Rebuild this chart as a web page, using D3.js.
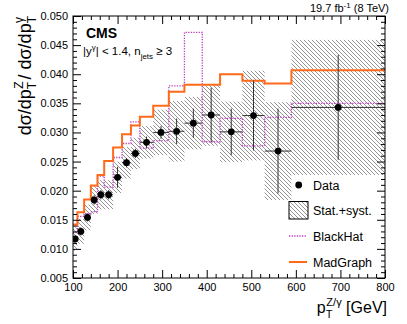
<!DOCTYPE html>
<html>
<head>
<meta charset="utf-8">
<script src="https://cdn.jsdelivr.net/npm/d3@7"></script>
<style>
  body { margin: 0; background: #fff; }
  text { font-family: "Liberation Sans", Arial, sans-serif; }
</style>
</head>
<body>
<div id="chart"></div>
<script>
// bin edges in pT (GeV)
var binEdges = [100, 110, 125, 140, 155, 170, 190, 210, 230, 250, 280, 315, 350, 390, 430, 480, 530, 590, 800];

// measured ratio and errors
var dataVals = [0.0117, 0.0130, 0.0154, 0.0184, 0.0193, 0.0193, 0.0223, 0.0248, 0.0264, 0.0283, 0.0300, 0.0302, 0.0316, 0.0330, 0.0301, 0.0329, 0.0268, 0.0343];
var statErr  = [0.0006, 0.0007, 0.0007, 0.0008, 0.0008, 0.0008, 0.0018, 0.0008, 0.0008, 0.0010, 0.0011, 0.0022, 0.0025, 0.0047, 0.0040, 0.0060, 0.0073, 0.0090];
var totErr   = [0.0020, 0.0021, 0.0022, 0.0024, 0.0025, 0.0025, 0.0027, 0.0027, 0.0027, 0.0028, 0.0039, 0.0052, 0.0045, 0.0053, 0.0052, 0.0077, 0.0084, 0.0116];

// predictions
var madgraph = [0.0142, 0.0163, 0.0185, 0.0209, 0.0227, 0.0251, 0.0274, 0.0297, 0.0312, 0.0327, 0.0346, 0.0370, 0.0382, 0.0382, 0.0400, 0.0389, 0.0384, 0.0407];
var blackhat = [0.0128, 0.0156, 0.0160, 0.0164, 0.0225, 0.0206, 0.0257, 0.0281, 0.0318, 0.0273, 0.0286, 0.0380, 0.0472, 0.0284, 0.0324, 0.0277, 0.0326, 0.0350];

// axis ticks
var xMajor = [100, 200, 300, 400, 500, 600, 700, 800];
var yMajor = [0.005, 0.010, 0.015, 0.020, 0.025, 0.030, 0.035, 0.040, 0.045, 0.050];

var W = 407, H = 324;
var L = 73, R = 385, T = 16, B = 278;
var orange = '#ff6a1a', magenta = '#c23cc2';

var svg = d3.select('#chart').append('svg')
  .attr('width', W).attr('height', H);

var x = d3.scaleLinear().domain([100, 800]).range([L, R]);
var y = d3.scaleLinear().domain([0.005, 0.050]).range([B, T]);

// hatch pattern
var defs = svg.append('defs');
var pat = defs.append('pattern')
  .attr('id', 'hatch')
  .attr('patternUnits', 'userSpaceOnUse')
  .attr('width', 4).attr('height', 4);
pat.append('path')
  .attr('d', 'M-1,-1 L5,5 M-1,3 L1,5 M3,-1 L5,1')
  .attr('stroke', '#666')
  .attr('stroke-width', 0.7);

defs.append('clipPath').attr('id', 'clip')
  .append('rect').attr('x', L).attr('y', T).attr('width', R - L).attr('height', B - T);

var bins = dataVals.map(function(v, i) {
  return { lo: binEdges[i], hi: binEdges[i + 1], v: v, se: statErr[i], te: totErr[i] };
});

var plot = svg.append('g').attr('clip-path', 'url(#clip)');

// stat+syst band
plot.selectAll('rect.band').data(bins).enter().append('rect')
  .attr('class', 'band')
  .attr('x', function(d) { return x(d.lo); })
  .attr('width', function(d) { return x(d.hi) - x(d.lo); })
  .attr('y', function(d) { return y(d.v + d.te); })
  .attr('height', function(d) { return y(d.v - d.te) - y(d.v + d.te); })
  .attr('fill', 'url(#hatch)');

// step histograms
function stepPts(vals) {
  var pts = vals.map(function(v, i) { return [binEdges[i], v]; });
  pts.push([binEdges[binEdges.length - 1], vals[vals.length - 1]]);
  return pts;
}
var step = d3.line()
  .x(function(d) { return x(d[0]); })
  .y(function(d) { return y(d[1]); })
  .curve(d3.curveStepAfter);

plot.append('path')
  .attr('d', step(stepPts(blackhat)))
  .attr('fill', 'none')
  .attr('stroke', magenta)
  .attr('stroke-width', 1.3)
  .attr('stroke-dasharray', '1.3,1.3');

plot.append('path')
  .attr('d', step(stepPts(madgraph)))
  .attr('fill', 'none')
  .attr('stroke', orange)
  .attr('stroke-width', 2);

// data error bars and markers
var pts = plot.selectAll('g.pt').data(bins).enter().append('g').attr('class', 'pt');
pts.append('line')
  .attr('x1', function(d) { return x(d.lo); })
  .attr('x2', function(d) { return x(d.hi); })
  .attr('y1', function(d) { return y(d.v); })
  .attr('y2', function(d) { return y(d.v); })
  .attr('stroke', '#333').attr('stroke-width', 1);
pts.append('line')
  .attr('x1', function(d) { return x((d.lo + d.hi) / 2); })
  .attr('x2', function(d) { return x((d.lo + d.hi) / 2); })
  .attr('y1', function(d) { return y(d.v - d.se); })
  .attr('y2', function(d) { return y(d.v + d.se); })
  .attr('stroke', '#333').attr('stroke-width', 1);
pts.append('circle')
  .attr('cx', function(d) { return x((d.lo + d.hi) / 2); })
  .attr('cy', function(d) { return y(d.v); })
  .attr('r', 3.4)
  .attr('fill', '#000');

// axes, ticks pointing inward
var xMinor = d3.range(120, 800, 20).filter(function(v) { return v % 100 !== 0; });
var yMinor = d3.range(6, 50, 1).filter(function(v) { return v % 5 !== 0; }).map(function(v) { return v / 1000; });

function styleAxis(g) {
  g.select('.domain').remove();
  g.selectAll('line').attr('stroke', '#000');
  g.selectAll('text').attr('font-size', 11).attr('fill', '#000')
    .style('font-family', '"Liberation Sans", Arial, sans-serif');
}

svg.append('g').attr('transform', 'translate(0,' + B + ')')
  .call(d3.axisBottom(x).tickValues(xMajor).tickSize(-8).tickPadding(5).tickFormat(d3.format('d')))
  .call(styleAxis);
svg.append('g').attr('transform', 'translate(0,' + B + ')')
  .call(d3.axisBottom(x).tickValues(xMinor).tickSize(-4).tickFormat(''))
  .call(styleAxis);
svg.append('g').attr('transform', 'translate(0,' + T + ')')
  .call(d3.axisTop(x).tickValues(xMajor).tickSize(-8).tickFormat(''))
  .call(styleAxis);
svg.append('g').attr('transform', 'translate(0,' + T + ')')
  .call(d3.axisTop(x).tickValues(xMinor).tickSize(-4).tickFormat(''))
  .call(styleAxis);

svg.append('g').attr('transform', 'translate(' + L + ',0)')
  .call(d3.axisLeft(y).tickValues(yMajor).tickSize(-8).tickPadding(5).tickFormat(d3.format('.3f')))
  .call(styleAxis);
svg.append('g').attr('transform', 'translate(' + L + ',0)')
  .call(d3.axisLeft(y).tickValues(yMinor).tickSize(-4).tickFormat(''))
  .call(styleAxis);
svg.append('g').attr('transform', 'translate(' + R + ',0)')
  .call(d3.axisRight(y).tickValues(yMajor).tickSize(-8).tickFormat(''))
  .call(styleAxis);
svg.append('g').attr('transform', 'translate(' + R + ',0)')
  .call(d3.axisRight(y).tickValues(yMinor).tickSize(-4).tickFormat(''))
  .call(styleAxis);

svg.append('rect')
  .attr('x', L).attr('y', T).attr('width', R - L).attr('height', B - T)
  .attr('fill', 'none').attr('stroke', '#000').attr('stroke-width', 1);

// axis titles
var xt = svg.append('text')
  .attr('x', R + 2).attr('y', 313)
  .attr('text-anchor', 'end')
  .attr('font-size', 16);
xt.append('tspan').text('p');
xt.append('tspan').attr('font-size', 11).attr('dy', 5).text('T');
xt.append('tspan').attr('font-size', 11).attr('dx', -6).attr('dy', -12).text('Z/γ');
xt.append('tspan').attr('dy', 7).text(' [GeV]');

var yt = svg.append('text')
  .attr('transform', 'translate(31,' + T + ') rotate(-90)')
  .attr('text-anchor', 'end')
  .attr('font-size', 18);
yt.append('tspan').text('dσ/dp');
yt.append('tspan').attr('font-size', 12).attr('dy', 5).text('T');
yt.append('tspan').attr('font-size', 12).attr('dx', -7).attr('dy', -13).text('Z');
yt.append('tspan').attr('dy', 8).attr('dx', 2).text('/ dσ/dp');
yt.append('tspan').attr('font-size', 12).attr('dy', 5).text('T');
yt.append('tspan').attr('font-size', 12).attr('dx', -7).attr('dy', -13).text('γ');

// labels
svg.append('text').attr('x', 86).attr('y', 38)
  .attr('font-size', 14).attr('font-weight', 'bold').text('CMS');

var sel = svg.append('text').attr('x', 83).attr('y', 55).attr('font-size', 11.5);
sel.append('tspan').text('|y');
sel.append('tspan').attr('font-size', 8).attr('dy', -5).text('γ');
sel.append('tspan').attr('dy', 5).text('| < 1.4, n');
sel.append('tspan').attr('font-size', 8).attr('dy', 4).text('jets');
sel.append('tspan').attr('dy', -4).text(' ≥ 3');

var lumi = svg.append('text').attr('x', 389).attr('y', 12)
  .attr('text-anchor', 'end').attr('font-size', 11);
lumi.append('tspan').text('19.7 fb');
lumi.append('tspan').attr('font-size', 8).attr('dy', -4).text('-1');
lumi.append('tspan').attr('dy', 4).text(' (8 TeV)');

// legend
var lx = 289, tx = 313;
var leg = svg.append('g');
leg.append('circle').attr('cx', 298.7).attr('cy', 185).attr('r', 3.4).attr('fill', '#000');
leg.append('rect').attr('x', lx).attr('y', 201.5).attr('width', 19).attr('height', 17.5)
  .attr('fill', 'url(#hatch)').attr('stroke', '#000').attr('stroke-width', 1);
leg.append('line').attr('x1', lx).attr('x2', lx + 18).attr('y1', 236).attr('y2', 236)
  .attr('stroke', magenta).attr('stroke-width', 1.3).attr('stroke-dasharray', '1.3,1.3');
leg.append('line').attr('x1', lx).attr('x2', lx + 18).attr('y1', 262).attr('y2', 262)
  .attr('stroke', orange).attr('stroke-width', 2);
var legNames = ['Data', 'Stat.+syst.', 'BlackHat', 'MadGraph'];
var legY = [185, 210.3, 236, 262];
leg.selectAll('text.lg').data(legNames).enter().append('text')
  .attr('x', tx)
  .attr('y', function(d, i) { return legY[i]; })
  .attr('dy', '0.36em')
  .attr('font-size', 12.5)
  .text(function(d) { return d; });
</script>
</body>
</html>
